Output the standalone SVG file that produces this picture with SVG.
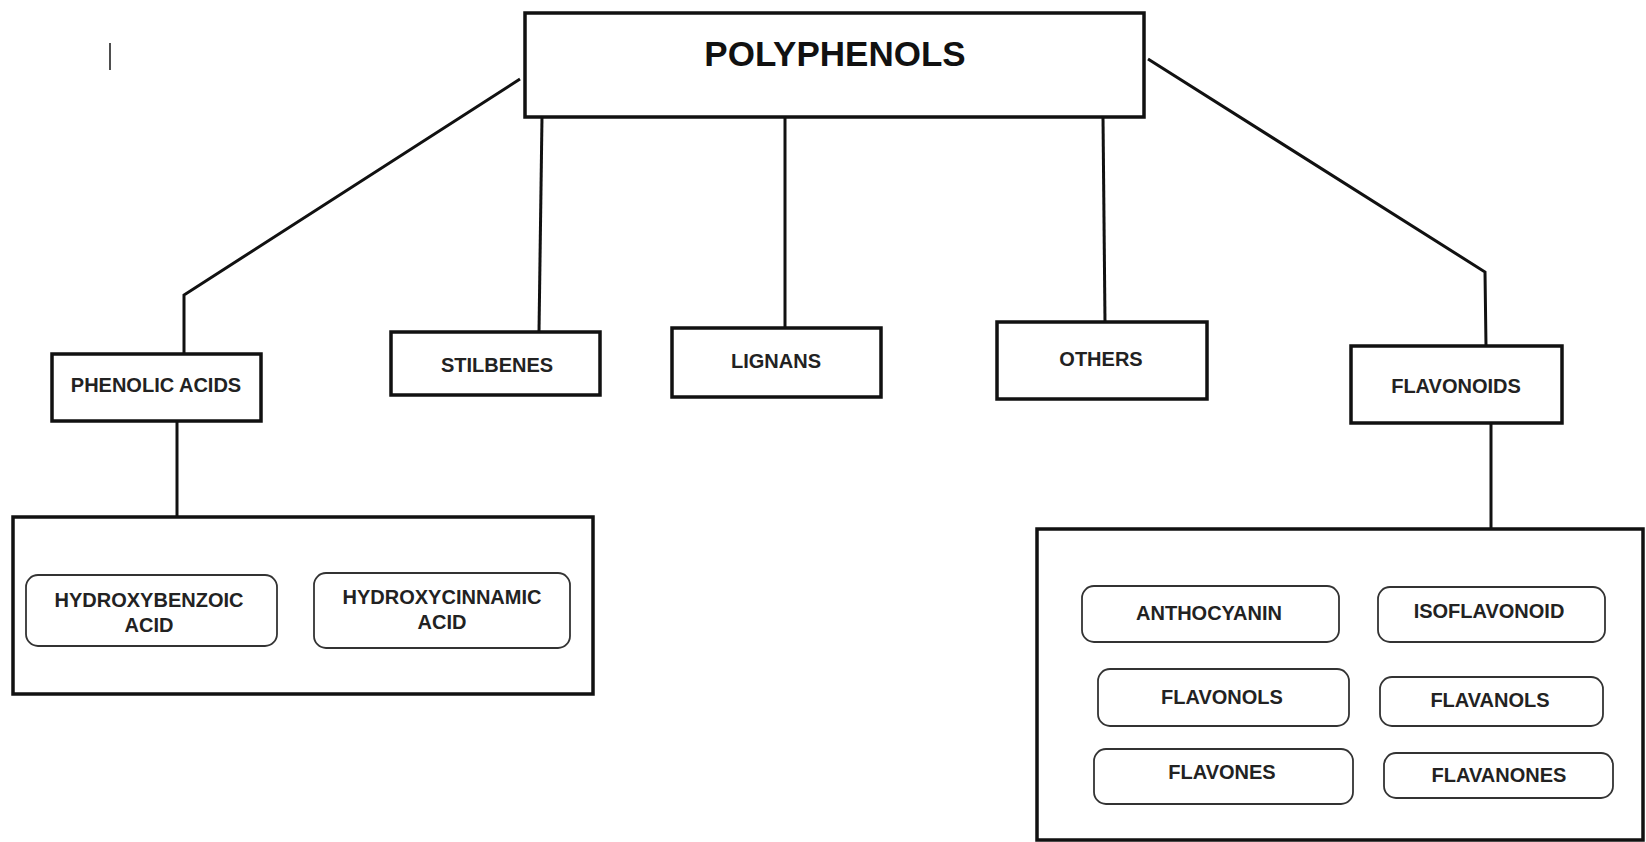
<svg xmlns="http://www.w3.org/2000/svg" width="1646" height="842" viewBox="0 0 1646 842">
<style>
.bg{fill:#ffffff}
.box{fill:#ffffff;stroke:#111;stroke-width:3.5}
.cont{fill:#ffffff;stroke:#111;stroke-width:3.5}
.rbox{fill:#ffffff;stroke:#333;stroke-width:1.8}
.conn{fill:none;stroke:#111;stroke-width:3;stroke-linejoin:miter}
.t{font-family:"Liberation Sans",Arial,sans-serif;font-weight:bold;font-size:20px;fill:#222;text-anchor:middle}
.title{font-family:"Liberation Sans",Arial,sans-serif;font-weight:bold;font-size:35px;fill:#111;text-anchor:middle}
</style>
<rect class="bg" x="0" y="0" width="1646" height="842"/>
<line x1="110" y1="43" x2="110" y2="70" stroke="#222" stroke-width="1.6"/>
<g id="connectors">
<polyline class="conn" points="520,79 184,295 184,354"/>
<line class="conn" x1="542" y1="117" x2="539" y2="332"/>
<line class="conn" x1="785" y1="117" x2="785" y2="328"/>
<line class="conn" x1="1103" y1="117" x2="1105" y2="322"/>
<polyline class="conn" points="1148,59 1485,272 1486,346"/>
<line class="conn" x1="177" y1="421" x2="177" y2="517"/>
<line class="conn" x1="1491" y1="423" x2="1491" y2="529"/>
</g>
<g id="polyphenols">
<rect class="box" x="525" y="13" width="619" height="104"/>
<text class="title" x="835" y="66">POLYPHENOLS</text>
</g>
<g id="phenolic-acids">
<rect class="box" x="52" y="354" width="209" height="67"/>
<text class="t" x="156" y="392">PHENOLIC ACIDS</text>
</g>
<g id="stilbenes">
<rect class="box" x="391" y="332" width="209" height="63"/>
<text class="t" x="497" y="372">STILBENES</text>
</g>
<g id="lignans">
<rect class="box" x="672" y="328" width="209" height="69"/>
<text class="t" x="776" y="368">LIGNANS</text>
</g>
<g id="others">
<rect class="box" x="997" y="322" width="210" height="77"/>
<text class="t" x="1101" y="366">OTHERS</text>
</g>
<g id="flavonoids">
<rect class="box" x="1351" y="346" width="211" height="77"/>
<text class="t" x="1456" y="393">FLAVONOIDS</text>
</g>
<g id="phenolic-group">
<rect class="cont" x="13" y="517" width="580" height="177"/>
</g>
<g id="hydroxybenzoic">
<rect class="rbox" x="26" y="575" width="251" height="71" rx="12"/>
<text class="t" x="149" y="607">HYDROXYBENZOIC</text>
<text class="t" x="149" y="632">ACID</text>
</g>
<g id="hydroxycinnamic">
<rect class="rbox" x="314" y="573" width="256" height="75" rx="12"/>
<text class="t" x="442" y="604">HYDROXYCINNAMIC</text>
<text class="t" x="442" y="629">ACID</text>
</g>
<g id="flavonoid-group">
<rect class="cont" x="1037" y="529" width="606" height="311"/>
</g>
<g id="anthocyanin">
<rect class="rbox" x="1082" y="586" width="257" height="56" rx="12"/>
<text class="t" x="1209" y="620">ANTHOCYANIN</text>
</g>
<g id="isoflavonoid">
<rect class="rbox" x="1378" y="587" width="227" height="55" rx="12"/>
<text class="t" x="1489" y="618">ISOFLAVONOID</text>
</g>
<g id="flavonols">
<rect class="rbox" x="1098" y="669" width="251" height="57" rx="12"/>
<text class="t" x="1222" y="704">FLAVONOLS</text>
</g>
<g id="flavanols">
<rect class="rbox" x="1380" y="677" width="223" height="49" rx="12"/>
<text class="t" x="1490" y="707">FLAVANOLS</text>
</g>
<g id="flavones">
<rect class="rbox" x="1094" y="749" width="259" height="55" rx="12"/>
<text class="t" x="1222" y="779">FLAVONES</text>
</g>
<g id="flavanones">
<rect class="rbox" x="1384" y="753" width="229" height="45" rx="12"/>
<text class="t" x="1499" y="782">FLAVANONES</text>
</g>
</svg>
